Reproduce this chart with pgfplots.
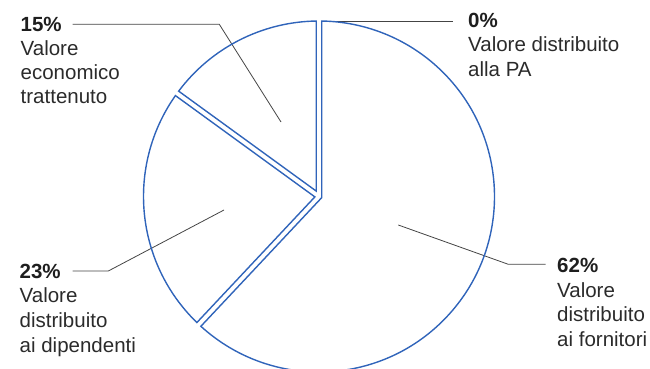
\documentclass[border=0pt]{standalone}
\usepackage{pgfplots}
\pgfplotsset{compat=1.18}
\usepackage{pgfplotstable}
\usepackage{fontspec}
\setmainfont{Liberation Sans}
\definecolor{pieblue}{HTML}{3064BA}
\definecolor{lbltext}{HTML}{2B2B2B}
\definecolor{lblbold}{HTML}{1E1E1E}
\definecolor{leader}{HTML}{444444}

% slice values (percent), clockwise from 12 o'clock
\pgfplotstableread{
value
62
23
15
0
}\piedata

\def\cx{319}\def\cy{171.5}\def\R{175.5}\def\gap{2.75}

\newcommand\pieslice[2]{%
  \pgfmathsetmacro\slS{#2}%
  \pgfmathsetmacro\slE{#1}%
  \pgfmathsetmacro\slH{(\slE-\slS)/2}%
  \ifdim\slH pt>0.01pt
    \pgfmathsetmacro\slM{(\slE+\slS)/2}%
    \pgfmathsetmacro\slV{\gap/sin(\slH)}%
    \pgfmathsetmacro\slD{asin(\gap/\R)}%
    \pgfmathsetmacro\slA{\slS+\slD}%
    \pgfmathsetmacro\slB{\slE-\slD}%
    \pgfmathsetmacro\slVx{\cx+\slV*cos(\slM)}%
    \pgfmathsetmacro\slVy{\cy+\slV*sin(\slM)}%
    \pgfmathsetmacro\slAx{\cx+\R*cos(\slA)}%
    \pgfmathsetmacro\slAy{\cy+\R*sin(\slA)}%
    \draw[pieblue, line width=1.4pt, line join=miter]
      (axis cs:\slVx,\slVy) -- (axis cs:\slAx,\slAy)
      arc[start angle=\slA, end angle=\slB, radius=\R pt] -- cycle;
  \fi
}

\newcommand\bl[3]{\node[anchor=base west, inner sep=0pt, text=lblbold, font=\bfseries] at (axis cs:#1,#2) {#3};}
\newcommand\tl[3]{\node[anchor=base west, inner sep=0pt, text=lbltext] at (axis cs:#1,#2) {#3};}

\begin{document}
\fontsize{20.5}{24}\selectfont
\begin{tikzpicture}
\begin{axis}[
  at={(0,0)}, anchor=south west,
  width=650pt, height=368pt, scale only axis,
  hide axis, clip=false,
  xmin=0, xmax=650, ymin=0, ymax=368,
]
% leader lines
\addplot[leader, line width=0.8pt, no marks] coordinates {(281,246) (219.3,343.7) (72.7,343.7)};
\addplot[leader, line width=0.8pt, no marks] coordinates {(322,346.3) (453.3,346.3)};
\addplot[leader, line width=0.8pt, no marks] coordinates {(224,158) (108.3,97) (72.7,97)};
\addplot[leader, line width=0.8pt, no marks] coordinates {(398.3,143) (508.3,103.7) (545.7,103.7)};

\pgfplotsextra{%
  \def\cum{0}%
  \pgfplotstablegetrowsof{\piedata}%
  \pgfmathtruncatemacro\nrows{\pgfplotsretval-1}%
  \pgfplotsforeachungrouped \i in {0,...,\nrows}{%
    \pgfplotstablegetelem{\i}{value}\of\piedata
    \let\val\pgfplotsretval
    \pgfmathsetmacro\aStart{90-3.6*\cum}%
    \pgfmathsetmacro\cum{\cum+\val}%
    \pgfmathsetmacro\aEnd{90-3.6*\cum}%
    \pieslice{\aStart}{\aEnd}%
  }%
}

% labels
\bl{20.5}{337}{15\%}
\tl{20.5}{313}{Valore}
\tl{20.5}{289}{economico}
\tl{20.5}{265}{trattenuto}

\bl{468}{341}{0\%}
\tl{468}{316.5}{Valore distribuito}
\tl{468}{292}{alla PA}

\bl{19.5}{90}{23\%}
\tl{19.5}{65.5}{Valore}
\tl{19.5}{40.5}{distribuito}
\tl{19.5}{16}{ai dipendenti}

\bl{557}{95.7}{62\%}
\tl{557}{71}{Valore}
\tl{557}{46.3}{distribuito}
\tl{557}{21.5}{ai fornitori}
\end{axis}
\pgfresetboundingbox
\useasboundingbox (0,0) rectangle (650pt,368pt);
\end{tikzpicture}
\end{document}
